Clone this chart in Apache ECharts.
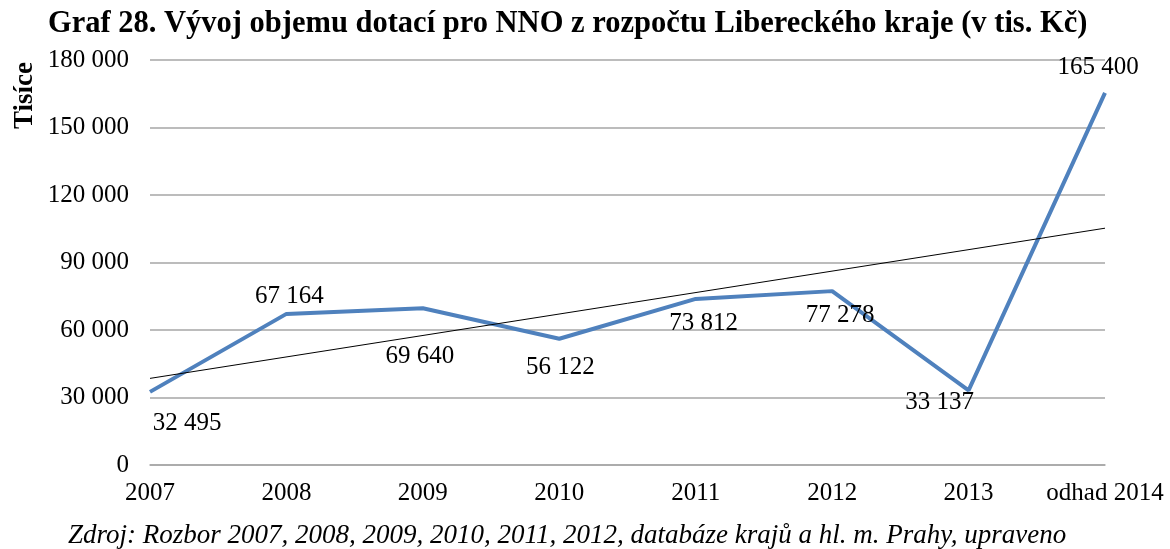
<!DOCTYPE html>
<html>
<head>
<meta charset="utf-8">
<script src="https://cdn.jsdelivr.net/npm/echarts@6/dist/echarts.min.js"></script>
<style>
  html, body { margin: 0; padding: 0; background: #fff; }
  #graf { width: 1170px; height: 549px; }
</style>
</head>
<body>
<div id="graf"></div>
<script>
// data
var roky = ['2007', '2008', '2009', '2010', '2011', '2012', '2013', 'odhad 2014'];
var dotace = [32495, 67164, 69640, 56122, 73812, 77278, 33137, 165400];
// trendline (linear), values at first and last category
var trendKrajni = [38500, 105250];
var osaY = [0, 30000, 60000, 90000, 120000, 150000, 180000];

function tisice(v) {
  return String(v).replace(/\B(?=(\d{3})+(?!\d))/g, ' ');
}

// poloha popisku u kazdeho bodu (strana, posun x, posun y)
var popiskyPoloha = [
  ['bottom', 37, 14],
  ['top', 3, 1],
  ['bottom', -3, 30],
  ['bottom', 1, 11],
  ['bottom', 8, 7],
  ['bottom', 8, 6],
  ['bottom', -29, -6],
  ['top', -7, -7]
];

var chart = echarts.init(document.getElementById('graf'));
var serif = '"Liberation Serif", "DejaVu Serif", serif';

var option = {
  animation: false,
  title: [{
    text: 'Graf 28. Vývoj objemu dotací pro NNO z rozpočtu Libereckého kraje (v tis. Kč)',
    left: 43,
    top: 4,
    textStyle: { fontFamily: serif, fontWeight: 'bold', fontSize: 30.5, color: '#000' }
  }, {
    text: 'Zdroj: Rozbor 2007, 2008, 2009, 2010, 2011, 2012, databáze krajů a hl. m. Prahy, upraveno',
    left: 63,
    top: 517,
    textStyle: { fontFamily: serif, fontStyle: 'italic', fontWeight: 'normal', fontSize: 27, color: '#000' }
  }],
  graphic: [{
    type: 'text',
    x: 12,
    y: 129,
    rotation: Math.PI / 2,
    style: {
      text: 'Tisíce',
      fontFamily: serif,
      fontWeight: 'bold',
      fontSize: 27,
      fill: '#000',
      textAlign: 'left',
      textVerticalAlign: 'top'
    }
  }],
  grid: { left: 150, right: 65, top: 60, bottom: 84 },
  xAxis: {
    type: 'category',
    data: roky,
    boundaryGap: false,
    axisLine: { lineStyle: { color: '#a6a6a6', width: 1.5 } },
    axisTick: { show: false },
    axisLabel: { fontFamily: serif, fontSize: 25, color: '#000', margin: 16, interval: 0 }
  },
  yAxis: {
    type: 'value',
    min: osaY[0],
    max: osaY[osaY.length - 1],
    interval: osaY[1] - osaY[0],
    axisLine: { show: false },
    axisTick: { show: false },
    splitLine: { lineStyle: { color: '#a6a6a6', width: 1.5 } },
    axisLabel: { fontFamily: serif, fontSize: 25, color: '#000', margin: 21, formatter: tisice }
  },
  series: [{
    name: 'dotace',
    type: 'line',
    data: dotace.map(function (v, i) {
      return {
        value: v,
        label: { position: popiskyPoloha[i][0] }
      };
    }),
    symbol: 'circle',
    symbolSize: 1,
    showSymbol: true,
    itemStyle: { color: 'rgba(0,0,0,0)' },
    lineStyle: { color: '#4f81bd', width: 4 },
    label: {
      show: true,
      fontFamily: serif,
      fontSize: 25,
      color: '#000',
      formatter: function (p) { return tisice(p.value); }
    },
    labelLayout: function (p) {
      var pp = popiskyPoloha[p.dataIndex];
      return { dx: pp[1], dy: pp[2], hideOverlap: false };
    },
    z: 3
  }, {
    name: 'trend',
    type: 'line',
    data: [[0, trendKrajni[0]], [roky.length - 1, trendKrajni[1]]],
    symbol: 'none',
    lineStyle: { color: '#000', width: 1 },
    z: 4
  }]
};

chart.setOption(option);
</script>
</body>
</html>
